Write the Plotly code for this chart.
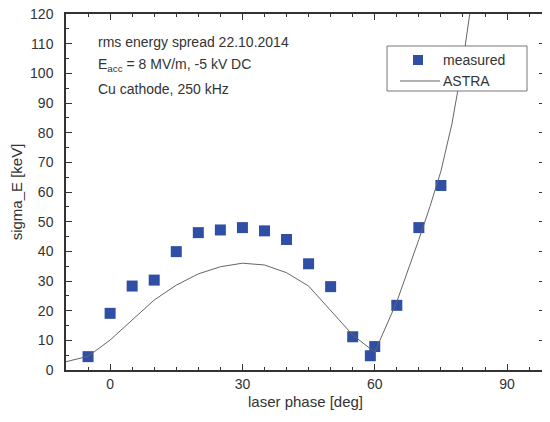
import plotly.graph_objects as go

# measured data
meas_phase = [-5, 0, 5, 10, 15, 20, 25, 30, 35, 40, 45, 50, 55, 59, 60, 65, 70, 75]
meas_sigma = [4.5, 19.1, 28.3, 30.3, 39.9, 46.3, 47.2, 48.0, 46.9, 44.0, 35.8, 28.1, 11.2, 4.8, 7.9, 21.8, 48.0, 62.2]

# ASTRA simulation
astra_phase = [-10, -5, 0, 5, 10, 15, 20, 25, 30, 35, 40, 45, 50, 55, 60, 65, 70, 72.5, 75, 77.5, 80, 82.5]
astra_sigma = [2.8, 4.6, 10.1, 16.9, 23.6, 28.6, 32.4, 34.8, 36.0, 35.4, 32.8, 28.3, 20.2, 11.8, 6.0, 23.0, 44.0, 55.0, 67.0, 83.0, 104.0, 130.0]

x_ticks = [0, 30, 60, 90]
y_ticks = [0, 10, 20, 30, 40, 50, 60, 70, 80, 90, 100, 110, 120]

FONT = "Liberation Sans, Arial, sans-serif"
TXT = "#333333"
X_RANGE = [-10, 98.6]
Y_RANGE = [0, 120]

fig = go.Figure()
fig.add_trace(go.Scatter(
    x=meas_phase, y=meas_sigma, mode="markers", name="measured",
    marker=dict(symbol="square", size=11, color="#2f4fa6", line=dict(width=0)),
    showlegend=False,
))
fig.add_trace(go.Scatter(
    x=astra_phase, y=astra_sigma, mode="lines", name="ASTRA",
    line=dict(color="#666666", width=1),
    showlegend=False,
))

tick_common = dict(
    showline=True, linecolor=TXT, linewidth=1.5, mirror="allticks",
    ticks="inside", ticklen=6, tickwidth=1.2, tickcolor=TXT,
    showgrid=False, zeroline=False, automargin=False, ticklabeloverflow="allow",
)
minor_common = dict(dtick=5, tick0=0, ticks="inside", ticklen=3, tickwidth=1.2, tickcolor=TXT)

fig.update_layout(
    xaxis=dict(
        range=X_RANGE, tickvals=x_ticks, minor=minor_common,
        tickfont=dict(family=FONT, size=14, color=TXT),
        title=dict(text="laser phase [deg]", font=dict(family=FONT, size=15, color=TXT), standoff=6),
        **tick_common,
    ),
    yaxis=dict(
        range=Y_RANGE, tickvals=y_ticks, minor=minor_common,
        tickfont=dict(family=FONT, size=14, color=TXT), ticklabelstandoff=8,
        title=dict(text="sigma_E [keV]", font=dict(family=FONT, size=15, color=TXT), standoff=8),
        **tick_common,
    ),
)

# plot area in the screenshot: x 66..545 px (width 479), y 14..370 px (height 356)
def px_x(p):
    return (p - 66) / 479.0

def px_y(p):
    return (370 - p) / 356.0

txt_font = dict(family=FONT, size=14, color=TXT)
fig.add_annotation(x=px_x(96), y=px_y(42), xref="paper", yref="paper", text="rms energy spread 22.10.2014",
                   showarrow=False, xanchor="left", yanchor="middle", font=txt_font)
fig.add_annotation(x=px_x(96), y=px_y(65), xref="paper", yref="paper", text="E<sub>acc</sub> = 8 MV/m, -5 kV DC",
                   showarrow=False, xanchor="left", yanchor="middle", font=txt_font)
fig.add_annotation(x=px_x(96), y=px_y(89), xref="paper", yref="paper", text="Cu cathode, 250 kHz",
                   showarrow=False, xanchor="left", yanchor="middle", font=txt_font)

# legend box (drawn manually to match the compact original)
fig.add_shape(type="rect", xref="paper", yref="paper",
              x0=px_x(387), x1=px_x(527), y0=px_y(91), y1=px_y(46),
              line=dict(color="#777777", width=1), fillcolor="white", layer="above")
fig.add_shape(type="rect", xref="paper", yref="paper",
              x0=px_x(413), x1=px_x(423), y0=px_y(65), y1=px_y(55),
              line=dict(width=0), fillcolor="#2f4fa6", layer="above")
fig.add_shape(type="line", xref="paper", yref="paper",
              x0=px_x(400), x1=px_x(440), y0=px_y(81), y1=px_y(81),
              line=dict(color="#666666", width=1), layer="above")
fig.add_annotation(x=px_x(441), y=px_y(60), xref="paper", yref="paper", text="measured",
                   showarrow=False, xanchor="left", yanchor="middle", font=txt_font)
fig.add_annotation(x=px_x(441), y=px_y(81), xref="paper", yref="paper", text="ASTRA",
                   showarrow=False, xanchor="left", yanchor="middle", font=txt_font)

# the page adds an 8 px body margin, so the margins are shifted by 8 px
fig.update_layout(
    width=550, height=422,
    margin=dict(l=58, r=13, t=6, b=60),
    plot_bgcolor="white", paper_bgcolor="white",
    showlegend=False,
)

fig.write_html("out.html")
